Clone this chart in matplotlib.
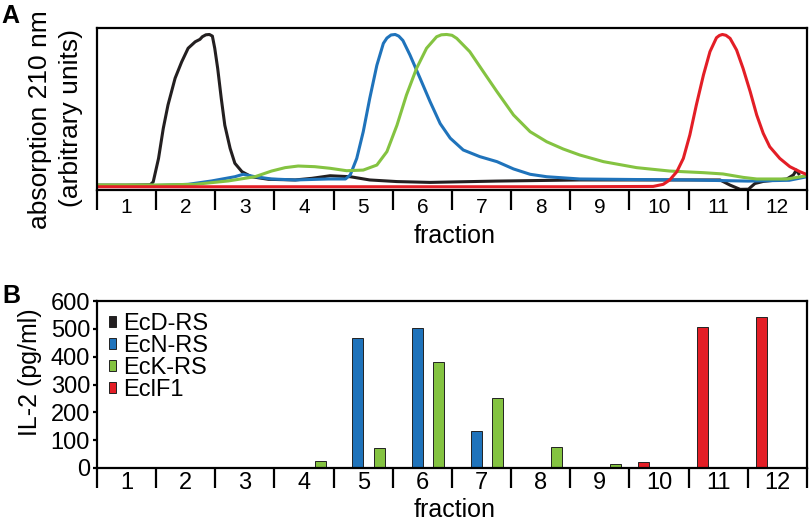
import matplotlib
matplotlib.use("Agg")
import matplotlib.pyplot as plt

plt.rcParams['font.family'] = ['Liberation Sans', 'DejaVu Sans']

fractions = [str(i) for i in range(1, 13)]
series_names = ["EcD-RS", "EcN-RS", "EcK-RS", "EclF1"]
series_colors = ["#231f20", "#1f73bb", "#84c341", "#e31e26"]

# panel A traces: x = fraction position, y = absorption (% of plot height)
ecd_x = [0, 0.5, 0.9, 0.95, 1.04, 1.12, 1.2, 1.32, 1.43, 1.54, 1.66, 1.74, 1.78, 1.84, 1.9, 1.95,
         1.99, 2.04, 2.1, 2.16, 2.25, 2.33, 2.45, 2.61, 2.9, 3.35, 3.63, 3.94, 4.28, 4.61,
         5.07, 5.63, 6.75, 8.16, 10.53, 10.7, 10.87, 11.01, 11.12, 11.26, 11.66, 11.77, 11.82, 11.86]
ecd_y = [3, 3, 3.2, 5, 19.5, 38, 52.5, 69, 79, 87.5, 91.5, 93, 94.6, 95.8, 96, 95,
         87.5, 75, 56.6, 40, 25.7, 16.5, 11.3, 8.2, 6.6, 6.2, 7.2, 8.8, 8.2, 6.2,
         5.2, 4.7, 5.5, 6.2, 6.2, 3, 0.4, 0.5, 4, 5.3, 6.8, 9.3, 12.3, 10]

ecn_x = [0, 1.0, 1.54, 1.94, 2.33, 2.47, 2.67, 2.95, 3.35, 3.91, 4.2, 4.28, 4.39, 4.5, 4.61,
         4.73, 4.84, 4.9, 4.97, 5.04, 5.1, 5.17, 5.29, 5.46, 5.63, 5.8, 5.97, 6.19, 6.47, 6.76, 7.04,
         7.32, 7.6, 8.16, 9.0, 10.0, 11.0, 11.7, 12.0]
ecn_y = [2.8, 2.8, 3.5, 5.6, 8.2, 9.7, 8.2, 6.8, 6.2, 6.8, 6.8, 9.3, 19.5, 36, 56.6,
         77, 90.5, 93.8, 95.7, 96, 95, 92.3, 83.3, 69, 54.5, 41, 32, 24.7, 20.6, 17.5, 13,
         9.7, 8.2, 6.8, 6.5, 6.2, 5.5, 6, 8.2]

eck_x = [0, 1.0, 1.66, 2.22, 2.67, 2.95, 3.18, 3.4, 3.68, 3.94, 4.22, 4.5, 4.73, 4.9, 5.07,
         5.23, 5.4, 5.57, 5.74, 5.82, 5.91, 6.0, 6.08, 6.3, 6.53, 6.76, 7.04, 7.32, 7.6, 7.88, 8.16,
         8.56, 9.12, 9.68, 10.25, 10.58, 10.92, 11.15, 11.66, 12.0]
eck_y = [3.1, 3.1, 3.5, 5.6, 8.2, 11.7, 13.8, 14.8, 14.4, 13.4, 11.9, 12.3, 15.4, 23.7, 40,
         58.6, 75, 87.5, 94.6, 95.8, 96, 95.5, 93.6, 85.4, 73, 60.7, 46.3, 36, 29.8, 25.3, 21.6,
         17.5, 13.8, 11.7, 10.7, 9.9, 7.8, 6.8, 6.8, 8.8]

eclf1_x = [0, 2, 4, 6, 8, 9.4, 9.57, 9.68, 9.8, 9.91, 10.02, 10.13, 10.25, 10.36, 10.47, 10.52,
           10.57, 10.63, 10.7, 10.81, 10.92, 11.04, 11.15, 11.26, 11.37, 11.54, 11.71, 11.88, 12.0]
eclf1_y = [2, 2, 2, 2, 2, 2.2, 3.5, 6.2, 11.3, 19.5, 34, 52.5, 71, 85.4, 94, 95.4,
           96, 95.5, 93.6, 86.4, 75, 60.7, 46.3, 35, 26.7, 19.5, 14.4, 11.3, 9.5]

# panel B: IL-2 (pg/ml) per fraction
ecd_il2 = [0, 0, 0, 0, 0, 0, 0, 0, 0, 0, 0, 0]
ecn_il2 = [0, 0, 0, 0, 468, 502, 132, 2, 0, 0, 0, 0]
eck_il2 = [0, 0, 3, 26, 71, 381, 253, 77, 14, 3, 2, 2]
eclf1_il2 = [0, 0, 0, 0, 0, 0, 0, 0, 0, 20, 508, 541]

fig = plt.figure(figsize=(8.12, 5.23), dpi=100)
W, H = 812, 523

def box(l, t, r, b):
    return [l / W, 1 - b / H, (r - l) / W, (b - t) / H]

def fraction_axis(ax, fs, pad):
    ax.set_xlim(0, 12)
    ax.set_xticks(range(13))
    ax.set_xticklabels([])
    ax.set_xticks([i + 0.5 for i in range(12)], minor=True)
    ax.set_xticklabels(fractions, minor=True, fontsize=fs)
    ax.tick_params(axis='x', which='major', direction='out', length=14.5, width=1.6)
    ax.tick_params(axis='x', which='minor', length=0, pad=pad)
    for s in ax.spines.values():
        s.set_linewidth(1.6)

# ---- A ----
axA = fig.add_axes(box(97, 28, 807, 190))
traces = [(ecd_x, ecd_y), (ecn_x, ecn_y), (eck_x, eck_y), (eclf1_x, eclf1_y)]
for (x, y), c in zip(traces, series_colors):
    axA.plot(x, y, color=c, lw=2.2, solid_joinstyle='round')
axA.set_ylim(0, 100)
axA.set_yticks([])
fraction_axis(axA, 15, 6)
fig.text(455 / W, 1 - 243 / H, "fraction", ha='center', va='baseline', fontsize=18)
fig.text(40 / W, 1 - 120 / H, "absorption 210 nm", rotation=90, ha='center', va='center', fontsize=19)
fig.text(71 / W, 1 - 118 / H, "(arbitrary units)", rotation=90, ha='center', va='center', fontsize=19)
fig.text(1 / W, 1 - 4 / H, "A", ha='left', va='top', fontsize=18, fontweight='bold')

# ---- B ----
axB = fig.add_axes(box(97, 301, 807, 468))
offsets = [0.59, 0.41, 0.77, 0.23]
values = [ecd_il2, ecn_il2, eck_il2, eclf1_il2]
width = 0.186
for name, c, off, v in zip(series_names, series_colors, offsets, values):
    axB.bar([i + off for i in range(12)], v, width=width, color=c,
            edgecolor='#222222', linewidth=0.7, label=name)
axB.set_ylim(0, 600)
axB.set_yticks(range(0, 601, 100))
axB.tick_params(axis='y', direction='out', length=3, width=1.6, pad=2, labelsize=17)
fraction_axis(axB, 17, 3)
axB.legend(loc='upper left', bbox_to_anchor=(0.0, 1.0), frameon=False, fontsize=17,
           handlelength=0.3, handleheight=0.3, handletextpad=0.3, labelspacing=0.0,
           borderaxespad=0.3, borderpad=0.2)
fig.text(455 / W, 1 - 517 / H, "fraction", ha='center', va='baseline', fontsize=18)
fig.text(30 / W, 1 - 372 / H, "IL-2 (pg/ml)", rotation=90, ha='center', va='center', fontsize=18)
fig.text(2 / W, 1 - 284 / H, "B", ha='left', va='top', fontsize=18, fontweight='bold')

fig.savefig("out.png", dpi=100)
